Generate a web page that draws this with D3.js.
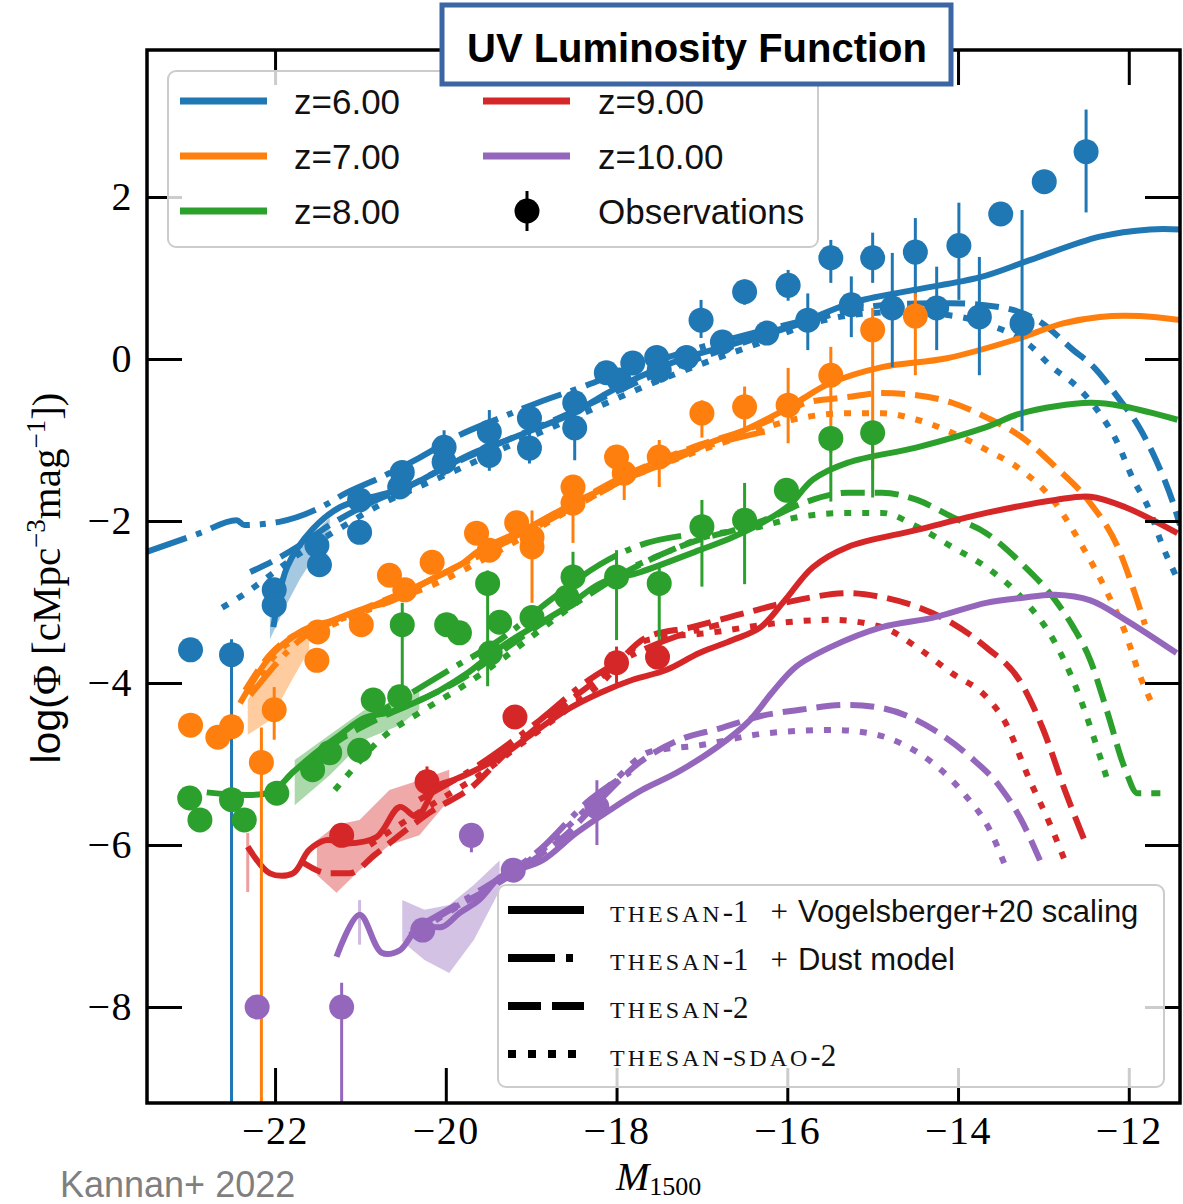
<!DOCTYPE html>
<html>
<head>
<meta charset="utf-8">
<script src="https://cdn.jsdelivr.net/npm/d3@7"></script>
<style>
  body { margin: 0; background: #fff; }
  svg { display: block; }
</style>
</head>
<body>
<div id="chart"></div>
<script>
// UV luminosity function, THESAN models vs observations (Kannan+ 2022)

var zLabels = ["z=6.00", "z=7.00", "z=8.00", "z=9.00", "z=10.00"];
var zColors = ["#1f77b4", "#ff7f0e", "#2ca02c", "#d62728", "#9467bd"];
var xTicks = [-22, -20, -18, -16, -14, -12];
var yTicks = [-8, -6, -4, -2, 0, 2];
var modelNames = [
  {sc: "THESAN-1", plus: true, sans: "Vogelsberger+20 scaling"},
  {sc: "THESAN-1", plus: true, sans: "Dust model"},
  {sc: "THESAN-2", plus: false, sans: ""},
  {sc: "THESAN-SDAO-2", plus: false, sans: ""}
];

// THESAN-1 + Vogelsberger+20 scaling  [M1500, log phi]
var solidZ6 = [[-22.02,-3.31],[-21.86,-2.57],[-21.56,-2.10],[-21.24,-1.83],[-20.85,-1.70],[-20.45,-1.58],[-20.07,-1.37],[-19.68,-1.16],[-19.28,-1.00],[-18.90,-0.84],[-18.51,-0.67],[-18.11,-0.42],[-17.73,-0.22],[-17.26,-0.01],[-16.55,0.21],[-15.77,0.48],[-15.23,0.70],[-14.53,0.85],[-13.74,1.01],[-13.16,1.22],[-12.34,1.51],[-11.75,1.60],[-11.40,1.60]];
var solidZ7 = [[-22.41,-4.25],[-22.06,-3.68],[-21.79,-3.43],[-21.40,-3.26],[-21.01,-3.10],[-20.62,-2.98],[-20.19,-2.73],[-19.83,-2.54],[-19.60,-2.36],[-19.01,-2.07],[-18.43,-1.74],[-17.84,-1.46],[-17.26,-1.21],[-16.92,-1.04],[-16.55,-0.90],[-16.11,-0.67],[-15.85,-0.51],[-15.50,-0.30],[-14.89,-0.10],[-14.13,0.01],[-13.36,0.23],[-12.77,0.44],[-12.34,0.52],[-11.87,0.53],[-11.40,0.48]];
var solidZ8 = [[-22.80,-5.35],[-22.06,-5.35],[-21.79,-5.10],[-21.51,-4.85],[-21.24,-4.64],[-20.95,-4.43],[-20.65,-4.36],[-20.38,-4.25],[-20.07,-4.09],[-19.75,-3.88],[-19.36,-3.56],[-18.98,-3.31],[-18.58,-3.06],[-18.19,-2.77],[-17.72,-2.63],[-17.03,-2.36],[-16.64,-2.20],[-16.24,-1.99],[-15.97,-1.80],[-15.70,-1.49],[-15.29,-1.28],[-14.48,-1.09],[-13.67,-0.84],[-13.26,-0.67],[-12.45,-0.54],[-12.04,-0.59],[-11.43,-0.75]];
var solidZ9 = [[-22.32,-6.02],[-22.06,-6.35],[-21.79,-6.35],[-21.60,-6.06],[-21.40,-5.94],[-21.16,-5.98],[-20.81,-5.90],[-20.54,-5.53],[-20.34,-5.65],[-20.11,-5.28],[-19.92,-5.20],[-19.72,-5.11],[-19.36,-4.91],[-18.98,-4.62],[-18.58,-4.33],[-18.19,-4.12],[-17.81,-3.96],[-17.42,-3.84],[-17.03,-3.63],[-16.64,-3.47],[-16.31,-3.31],[-16.03,-2.98],[-15.70,-2.57],[-15.29,-2.32],[-14.48,-2.11],[-13.67,-1.90],[-12.86,-1.74],[-12.45,-1.70],[-12.04,-1.83],[-11.43,-2.15]];
var solidZ10 = [[-21.28,-7.38],[-21.01,-6.86],[-20.75,-7.33],[-20.54,-7.30],[-20.31,-7.01],[-20.04,-7.01],[-19.84,-6.84],[-19.61,-6.68],[-19.37,-6.40],[-19.17,-6.31],[-18.87,-6.19],[-18.47,-5.85],[-18.08,-5.57],[-17.70,-5.32],[-17.30,-5.11],[-16.82,-4.79],[-16.44,-4.46],[-16.18,-4.12],[-15.90,-3.80],[-15.50,-3.56],[-14.89,-3.31],[-14.28,-3.19],[-13.67,-3.01],[-13.26,-2.95],[-12.86,-2.91],[-12.45,-2.98],[-12.04,-3.22],[-11.44,-3.63]];

// THESAN-1 + Dust model
var dustZ6 = [[-23.50,-2.38],[-22.88,-2.15],[-22.45,-1.99],[-22.36,-2.05],[-21.95,-2.01],[-21.48,-1.84],[-21.16,-1.65],[-20.78,-1.47],[-20.31,-1.22],[-19.84,-0.94],[-19.37,-0.73],[-18.90,-0.53],[-18.44,-0.36],[-17.97,-0.17],[-17.50,-0.01],[-17.03,0.14],[-16.44,0.31],[-15.86,0.46]];
var dustZ7 = [[-22.29,-4.15],[-21.71,-3.47],[-21.01,-3.12],[-20.30,-2.79],[-19.60,-2.42],[-18.90,-2.05],[-18.19,-1.65],[-17.49,-1.25],[-16.90,-1.06],[-16.20,-0.88]];
var dustZ8 = [[-21.71,-5.05],[-21.12,-4.58],[-20.54,-4.21],[-19.96,-3.84],[-19.37,-3.47],[-18.78,-2.98],[-18.20,-2.54],[-17.73,-2.30],[-17.15,-2.17]];
var dustZ9 = [[-20.31,-5.44],[-19.61,-5.01],[-18.90,-4.46],[-18.32,-3.96],[-17.81,-3.65],[-17.26,-3.41],[-16.80,-3.28]];
var dustZ10 = [[-20.30,-6.99],[-19.60,-6.56],[-18.90,-6.06],[-18.31,-5.44],[-17.84,-5.10]];

// THESAN-2
var t2Z6 = [[-22.29,-2.63],[-22.00,-2.48],[-21.71,-2.30],[-21.36,-2.05],[-20.89,-1.78],[-20.42,-1.56],[-19.95,-1.31],[-19.48,-1.09],[-19.01,-0.88],[-18.55,-0.67],[-18.08,-0.44],[-17.61,-0.22],[-17.03,0.01],[-16.44,0.23],[-15.77,0.46],[-15.27,0.60],[-14.68,0.68],[-14.10,0.69],[-13.51,0.64],[-13.04,0.46],[-12.65,0.11],[-12.41,-0.10],[-12.13,-0.47],[-11.88,-0.84],[-11.68,-1.25],[-11.48,-1.78],[-11.40,-2.05]];
var t2Z7 = [[-22.35,-4.09],[-22.06,-3.65],[-21.71,-3.37],[-21.24,-3.20],[-20.77,-3.00],[-20.30,-2.79],[-19.83,-2.54],[-19.36,-2.30],[-18.90,-2.01],[-18.43,-1.74],[-17.96,-1.47],[-17.49,-1.25],[-17.03,-1.06],[-16.55,-0.90],[-16.09,-0.70],[-15.78,-0.54],[-15.29,-0.47],[-14.89,-0.42],[-14.53,-0.44],[-14.07,-0.54],[-13.67,-0.72],[-13.26,-0.96],[-12.86,-1.33],[-12.45,-1.78],[-12.13,-2.32],[-11.93,-2.89],[-11.81,-3.28]];
var t2Z8 = [[-21.71,-5.07],[-21.24,-4.70],[-20.77,-4.43],[-20.30,-4.21],[-19.83,-3.96],[-19.36,-3.62],[-18.90,-3.28],[-18.43,-2.98],[-17.96,-2.67],[-17.49,-2.42],[-17.03,-2.23],[-16.55,-2.09],[-16.20,-1.96],[-15.82,-1.78],[-15.29,-1.65],[-14.89,-1.65],[-14.48,-1.74],[-14.07,-1.95],[-13.67,-2.15],[-13.26,-2.52],[-12.86,-2.98],[-12.65,-3.31],[-12.45,-3.72],[-12.26,-4.33],[-12.04,-5.07],[-11.90,-5.36],[-11.63,-5.36]];
var t2Z9 = [[-21.71,-6.19],[-21.36,-6.35],[-21.13,-6.35],[-20.83,-6.12],[-20.46,-5.81],[-20.19,-5.60],[-19.69,-5.28],[-19.29,-4.86],[-18.90,-4.52],[-18.49,-4.17],[-18.08,-3.84],[-17.64,-3.43],[-17.12,-3.31],[-16.51,-3.14],[-15.90,-2.98],[-15.29,-2.89],[-14.89,-2.94],[-14.48,-3.06],[-14.07,-3.26],[-13.67,-3.56],[-13.26,-4.00],[-13.00,-4.58],[-12.75,-5.32],[-12.52,-5.94]];
var t2Z10 = [[-20.42,-7.11],[-19.95,-6.80],[-19.48,-6.53],[-19.01,-6.21],[-18.60,-5.88],[-18.19,-5.44],[-17.73,-4.98],[-17.26,-4.70],[-16.79,-4.56],[-16.32,-4.41],[-15.85,-4.33],[-15.29,-4.27],[-14.89,-4.31],[-14.28,-4.58],[-13.86,-4.91],[-13.51,-5.28],[-13.27,-5.67],[-13.04,-6.19]];

// THESAN-SDAO-2
var sdaoZ6 = [[-22.62,-3.07],[-22.33,-2.88],[-22.06,-2.67],[-21.71,-2.40],[-21.24,-2.09],[-20.77,-1.80],[-20.30,-1.57],[-19.83,-1.35],[-19.36,-1.12],[-18.90,-0.91],[-18.43,-0.69],[-17.96,-0.47],[-17.49,-0.26],[-16.90,-0.02],[-16.32,0.20],[-15.77,0.42],[-15.27,0.54],[-14.68,0.58],[-14.10,0.54],[-13.63,0.42],[-13.16,0.17],[-12.90,-0.10],[-12.65,-0.30],[-12.37,-0.63],[-12.13,-1.04],[-11.96,-1.46],[-11.76,-1.86],[-11.60,-2.32],[-11.45,-2.67]];
var sdaoZ7 = [[-22.29,-4.09],[-21.94,-3.59],[-21.48,-3.35],[-20.77,-3.04],[-20.07,-2.75],[-19.36,-2.36],[-18.66,-1.93],[-17.96,-1.52],[-17.26,-1.22],[-16.55,-0.96],[-15.94,-0.75],[-15.29,-0.67],[-14.89,-0.67],[-14.48,-0.75],[-14.07,-0.91],[-13.67,-1.12],[-13.26,-1.37],[-12.86,-1.78],[-12.54,-2.32],[-12.25,-2.89],[-12.04,-3.38],[-11.88,-3.88],[-11.73,-4.25]];
var sdaoZ8 = [[-21.30,-5.32],[-21.12,-5.10],[-20.77,-4.70],[-20.30,-4.36],[-19.83,-4.06],[-19.36,-3.72],[-18.90,-3.35],[-18.43,-2.98],[-17.96,-2.65],[-17.49,-2.42],[-16.88,-2.17],[-16.41,-2.09],[-15.86,-1.95],[-15.29,-1.90],[-14.89,-1.90],[-14.48,-2.07],[-14.07,-2.32],[-13.67,-2.57],[-13.26,-2.94],[-12.86,-3.51],[-12.62,-4.05],[-12.42,-4.64],[-12.25,-5.20]];
var sdaoZ9 = [[-20.89,-6.00],[-20.54,-5.75],[-20.07,-5.44],[-19.61,-5.14],[-19.14,-4.77],[-18.67,-4.40],[-18.20,-4.02],[-17.64,-3.47],[-16.91,-3.38],[-16.11,-3.26],[-15.50,-3.22],[-14.89,-3.31],[-14.48,-3.56],[-14.07,-3.88],[-13.67,-4.17],[-13.46,-4.46],[-13.16,-5.20],[-12.92,-5.75],[-12.75,-6.19]];
var sdaoZ10 = [[-20.30,-7.05],[-19.83,-6.74],[-19.36,-6.43],[-18.90,-6.09],[-18.43,-5.63],[-18.02,-5.20],[-17.61,-4.85],[-17.03,-4.77],[-16.24,-4.62],[-15.46,-4.58],[-15.03,-4.62],[-14.62,-4.77],[-14.27,-5.01],[-13.92,-5.38],[-13.63,-5.81],[-13.45,-6.25]];

// shaded scatter of the scaled model at the bright end  [M1500, low, high]
var bandZ6 = [[-22.06,-3.46,-2.98],[-21.89,-3.08,-2.59],[-21.71,-2.72,-2.32],[-21.36,-2.15,-1.96]];
var bandZ7 = [[-22.32,-4.64,-4.21],[-22.06,-4.46,-3.72],[-21.80,-3.96,-3.47],[-21.60,-3.59,-3.28]];
var bandZ8 = [[-21.77,-5.51,-4.95],[-21.36,-5.14,-4.64],[-20.95,-4.70,-4.33],[-20.54,-4.52,-4.21],[-20.31,-4.33,-4.09]];
var bandZ9 = [[-21.51,-6.37,-5.94],[-21.28,-6.59,-5.75],[-21.01,-6.31,-5.69],[-20.66,-6.00,-5.32],[-20.31,-5.88,-5.20],[-19.96,-5.44,-5.07]];
var bandZ10 = [[-20.51,-7.19,-6.68],[-20.25,-7.42,-6.80],[-19.96,-7.58,-6.74],[-19.67,-7.17,-6.49],[-19.37,-6.56,-6.19]];

// observations  [M1500, log phi, err down, err up]
var obsZ6 = [[-22.99,-3.59,0,0],[-22.51,-3.65,6.0,0.19],[-22.01,-2.85,0,0],[-22.01,-3.04,0.22,0],[-21.51,-2.30,0,0],[-21.48,-2.54,0,0],[-21.01,-2.14,0,0],[-21.01,-1.74,0,0],[-20.54,-1.58,0,0],[-20.51,-1.40,0,0],[-20.02,-1.27,0,0],[-20.02,-1.09,0.35,0.21],[-19.49,-1.19,0.19,0.56],[-19.49,-0.90,0,0],[-19.02,-1.10,0.19,0.51],[-19.02,-0.73,0,0],[-18.49,-0.85,0.40,0.47],[-18.49,-0.54,0,0],[-18.12,-0.17,0,0],[-17.97,-0.26,0,0],[-17.81,-0.05,0,0],[-17.53,0.02,0,0],[-17.50,-0.14,0,0],[-17.18,0.02,0,0],[-17.01,0.48,0.22,0.25],[-16.76,0.21,0,0],[-16.50,0.83,0.16,0.15],[-16.24,0.32,0,0],[-15.99,0.91,0.19,0.19],[-15.76,0.48,0.37,0.33],[-15.49,1.25,0.31,0.22],[-15.25,0.67,0.40,0.35],[-15.00,1.25,0.31,0.31],[-14.77,0.63,0.73,0.68],[-14.50,1.32,0.56,0.42],[-14.25,0.63,0.52,0.51],[-13.99,1.40,0.67,0.53],[-13.75,0.52,0.72,0.74],[-13.50,1.79,0,0],[-13.25,0.44,1.33,1.40],[-12.99,2.19,0,0],[-12.50,2.56,0.75,0.52]];
var obsZ7 = [[-22.99,-4.52,0,0],[-22.67,-4.67,0,0],[-22.51,-4.54,0,0],[-22.16,-4.98,6.0,0.43],[-22.01,-4.33,0.37,0.28],[-21.51,-3.72,0,0],[-21.50,-3.37,0,0],[-20.99,-3.28,0,0],[-20.66,-2.67,0,0],[-20.48,-2.85,0,0],[-20.16,-2.51,0,0],[-19.64,-2.15,0,0],[-19.49,-2.36,0,0],[-19.17,-2.02,0,0],[-18.99,-2.20,0.81,0.33],[-18.99,-2.32,0,0],[-18.51,-1.58,0,0],[-18.51,-1.78,0.49,0.20],[-18.00,-1.21,0,0],[-17.91,-1.41,0.33,0],[-17.50,-1.21,0.37,0.21],[-17.00,-0.67,0.30,0.16],[-16.50,-0.59,0.28,0.25],[-15.99,-0.57,0.47,0.46],[-15.49,-0.20,0.96,0.35],[-15.00,0.36,1.73,0.27],[-14.50,0.53,0.73,0.28]];
var obsZ8 = [[-23.00,-5.42,0,0],[-22.88,-5.69,0,0],[-22.51,-5.44,0,0],[-22.36,-5.69,0,0],[-21.98,-5.36,0,0],[-21.56,-5.07,0,0],[-21.36,-4.86,0,0],[-21.01,-4.83,0,0],[-20.85,-4.21,0,0],[-20.54,-4.17,0,0],[-20.51,-3.28,0.85,0.27],[-19.99,-3.28,0,0],[-19.84,-3.38,0,0],[-19.51,-2.77,1.27,0.16],[-19.48,-3.63,0,0],[-19.37,-3.25,0,0],[-18.99,-3.19,0,0],[-18.58,-2.94,0,0],[-18.51,-2.69,0,0.31],[-18.00,-2.69,0.78,0.33],[-17.50,-2.77,0.70,0.25],[-17.00,-2.07,0.74,0.33],[-16.50,-1.99,0.79,0.46],[-16.01,-1.62,0,0],[-15.49,-0.98,0.78,0],[-15.00,-0.91,0.80,0]];
var obsZ9 = [[-21.22,-5.88,0,0],[-20.22,-5.22,0,0.19],[-19.19,-4.42,0,0],[-18.00,-3.75,0.25,0.20],[-17.52,-3.68,0,0]];
var obsZ10 = [[-22.21,-8.00,0,0],[-21.22,-8.00,3.0,0.30],[-20.27,-7.05,0,0],[-19.70,-5.88,0.21,0],[-19.21,-6.31,0,0],[-18.23,-5.53,0.47,0.33]];

// faint vertical spreads of single bins  [M1500, low, high]
var spreadZ9 = [[-22.32,-6.58,-5.85]];
var spreadZ10 = [[-21.01,-7.23,-6.68]];

var series = [
  {solid: solidZ6, dust: dustZ6, t2: t2Z6, sdao: sdaoZ6, band: bandZ6, obs: obsZ6, spread: []},
  {solid: solidZ7, dust: dustZ7, t2: t2Z7, sdao: sdaoZ7, band: bandZ7, obs: obsZ7, spread: []},
  {solid: solidZ8, dust: dustZ8, t2: t2Z8, sdao: sdaoZ8, band: bandZ8, obs: obsZ8, spread: []},
  {solid: solidZ9, dust: dustZ9, t2: t2Z9, sdao: sdaoZ9, band: bandZ9, obs: obsZ9, spread: spreadZ9},
  {solid: solidZ10, dust: dustZ10, t2: t2Z10, sdao: sdaoZ10, band: bandZ10, obs: obsZ10, spread: spreadZ10}
];

var W = 1183, H = 1204;
var plot = {left: 147, right: 1180, top: 50, bottom: 1103};
var serif = "'Liberation Serif', 'DejaVu Serif', serif";
var sans = "'Liberation Sans', Arial, sans-serif";

var dashes = {solid: null, dust: "42,10,6,10", t2: "24,10", sdao: "7,11"};

var svg = d3.select("#chart").append("svg")
    .attr("width", W).attr("height", H)
    .attr("viewBox", "0 0 " + W + " " + H);

var x = d3.scaleLinear().domain([-23.5, -11.4]).range([plot.left, plot.right]);
var y = d3.scaleLinear().domain([-9.185, 3.815]).range([plot.bottom, plot.top]);

svg.append("clipPath").attr("id", "plotclip")
  .append("rect")
    .attr("x", plot.left).attr("y", plot.top)
    .attr("width", plot.right - plot.left).attr("height", plot.bottom - plot.top);

var g = svg.append("g").attr("clip-path", "url(#plotclip)");

var smooth = d3.line()
    .x(function(d){ return x(d[0]); })
    .y(function(d){ return y(d[1]); })
    .curve(d3.curveMonotoneX);
// the scaled model is jagged at the bright end; catmull-rom keeps the corners sharper
var jagged = d3.line()
    .x(function(d){ return x(d[0]); })
    .y(function(d){ return y(d[1]); })
    .curve(d3.curveCatmullRom.alpha(0.5));

var area = d3.area()
    .x(function(d){ return x(d[0]); })
    .y0(function(d){ return y(d[1]); })
    .y1(function(d){ return y(d[2]); })
    .curve(d3.curveLinear);

series.forEach(function(s, i){
  var c = zColors[i];
  g.append("path").attr("d", area(s.band))
    .attr("fill", c).attr("fill-opacity", 0.4).attr("stroke", "none");

  ["sdao", "t2", "dust", "solid"].forEach(function(k){
    g.append("path")
      .attr("d", (k === "solid" ? jagged : smooth)(s[k]))
      .attr("fill", "none")
      .attr("stroke", c)
      .attr("stroke-width", 6)
      .attr("stroke-dasharray", dashes[k])
      .attr("stroke-linejoin", "round");
  });
});

// observations on top
series.forEach(function(s, i){
  var c = zColors[i];
  var og = g.append("g");

  og.selectAll(".spread").data(s.spread).enter().append("line")
    .attr("x1", function(d){ return x(d[0]); })
    .attr("x2", function(d){ return x(d[0]); })
    .attr("y1", function(d){ return y(d[1]); })
    .attr("y2", function(d){ return y(d[2]); })
    .attr("stroke", c).attr("stroke-opacity", 0.45).attr("stroke-width", 3);

  og.selectAll(".err").data(s.obs.filter(function(d){ return d[2] > 0 || d[3] > 0; }))
    .enter().append("line")
    .attr("x1", function(d){ return x(d[0]); })
    .attr("x2", function(d){ return x(d[0]); })
    .attr("y1", function(d){ return y(d[1] - d[2]); })
    .attr("y2", function(d){ return y(d[1] + d[3]); })
    .attr("stroke", c).attr("stroke-width", 3);

  og.selectAll(".pt").data(s.obs).enter().append("circle")
    .attr("cx", function(d){ return x(d[0]); })
    .attr("cy", function(d){ return y(d[1]); })
    .attr("r", 12.5)
    .attr("fill", c);
});

// axes, ticks pointing inwards on all four sides
var fmt = function(d){ return d < 0 ? "\u2212" + Math.abs(d) : String(d); };

var xAxis = svg.append("g")
    .attr("transform", "translate(0," + plot.bottom + ")")
    .call(d3.axisBottom(x).tickValues(xTicks).tickSize(-35).tickPadding(13).tickFormat(fmt));
var yAxis = svg.append("g")
    .attr("transform", "translate(" + plot.left + ",0)")
    .call(d3.axisLeft(y).tickValues(yTicks).tickSize(-35).tickPadding(14).tickFormat(fmt));
var xTop = svg.append("g")
    .attr("transform", "translate(0," + plot.top + ")")
    .call(d3.axisTop(x).tickValues(xTicks).tickSize(-35).tickFormat(""));
var yRight = svg.append("g")
    .attr("transform", "translate(" + plot.right + ",0)")
    .call(d3.axisRight(y).tickValues(yTicks).tickSize(-35).tickFormat(""));

[xAxis, yAxis, xTop, yRight].forEach(function(a){
  a.select(".domain").remove();
  a.selectAll(".tick line").attr("stroke", "#000").attr("stroke-width", 3);
  a.selectAll(".tick text")
    .attr("fill", "#000")
    .style("font-family", serif)
    .style("font-size", "40px")
    .style("letter-spacing", "1.5px");
});

svg.append("rect")
  .attr("x", plot.left).attr("y", plot.top)
  .attr("width", plot.right - plot.left).attr("height", plot.bottom - plot.top)
  .attr("fill", "none").attr("stroke", "#000").attr("stroke-width", 3.5);

// axis labels
var xl = svg.append("text").attr("x", 616).attr("y", 1190)
    .style("font-family", serif).attr("fill", "#000");
xl.append("tspan").text("M").style("font-style", "italic").style("font-size", "40px");
xl.append("tspan").text("1500").attr("dy", 5).style("font-size", "26px");

var yl = svg.append("text")
    .attr("transform", "translate(60,578) rotate(-90)")
    .attr("text-anchor", "middle")
    .attr("fill", "#000")
    .style("font-size", "41px");
yl.append("tspan").text("log(").style("font-family", sans);
yl.append("tspan").text("\u03a6 [cMpc").style("font-family", serif);
yl.append("tspan").text("\u22123").attr("dy", -15).style("font-family", serif).style("font-size", "27px");
yl.append("tspan").text("mag").attr("dy", 15).style("font-family", serif);
yl.append("tspan").text("\u22121").attr("dy", -15).style("font-family", serif).style("font-size", "27px");
yl.append("tspan").text("])").attr("dy", 15).style("font-family", serif);

// redshift legend
var leg1 = svg.append("g");
leg1.append("rect")
  .attr("x", 168).attr("y", 71).attr("width", 650).attr("height", 176).attr("rx", 8)
  .attr("fill", "#fff").attr("fill-opacity", 0.8)
  .attr("stroke", "#cccccc").attr("stroke-width", 2);

var leg1Items = zLabels.map(function(t, i){ return {label: t, color: zColors[i], obs: false}; });
leg1Items.push({label: "Observations", color: "#000", obs: true});

leg1Items.forEach(function(d, i){
  var col = Math.floor(i / 3), row = i % 3;
  var cy = 101 + row * 55;
  var lx = col === 0 ? 180 : 483;
  var tx = col === 0 ? 294 : 598;
  if (d.obs) {
    leg1.append("line").attr("x1", 527).attr("x2", 527).attr("y1", cy - 20).attr("y2", cy + 20)
      .attr("stroke", "#000").attr("stroke-width", 3);
    leg1.append("circle").attr("cx", 527).attr("cy", cy).attr("r", 12.5).attr("fill", "#000");
  } else {
    leg1.append("line").attr("x1", lx).attr("x2", lx + 87).attr("y1", cy).attr("y2", cy)
      .attr("stroke", d.color).attr("stroke-width", 7);
  }
  leg1.append("text").attr("x", tx).attr("y", cy + 13)
    .text(d.label)
    .attr("fill", "#111")
    .style("font-family", sans).style("font-size", "35px");
});

// model legend
var leg2 = svg.append("g");
leg2.append("rect")
  .attr("x", 498).attr("y", 885).attr("width", 666).attr("height", 202).attr("rx", 8)
  .attr("fill", "#fff").attr("fill-opacity", 0.8)
  .attr("stroke", "#cccccc").attr("stroke-width", 2);

var legDash = [null, "47,11,7,11", "33,11", "8,12"];
modelNames.forEach(function(d, i){
  var cy = 910 + i * 48;
  leg2.append("line").attr("x1", 508).attr("x2", 584).attr("y1", cy).attr("y2", cy)
    .attr("stroke", "#000").attr("stroke-width", 8)
    .attr("stroke-dasharray", legDash[i]);
  var t = leg2.append("text").attr("x", 610).attr("y", cy + 12).attr("fill", "#111");
  // small caps: capital runs set smaller, the rest at full size
  d.sc.split(/([A-Z]+)/).forEach(function(part){
    if (!part) return;
    var caps = /^[A-Z]+$/.test(part);
    t.append("tspan").text(part)
      .style("font-family", serif)
      .style("font-size", caps ? "24px" : "31px")
      .style("letter-spacing", caps ? "3px" : "0px");
  });
  if (d.plus) {
    t.append("tspan").text("+").attr("dx", 22).style("font-family", serif).style("font-size", "31px");
  }
  if (d.sans) {
    t.append("tspan").text(d.sans).attr("dx", d.plus ? 10 : 0)
      .style("font-family", sans).style("font-size", "31px");
  }
});

// title box
svg.append("rect")
  .attr("x", 442).attr("y", 5).attr("width", 509).attr("height", 79)
  .attr("fill", "#fff").attr("stroke", "#3b65a3").attr("stroke-width", 5);
svg.append("text")
  .attr("x", 697).attr("y", 62).attr("text-anchor", "middle")
  .text("UV Luminosity Function")
  .attr("fill", "#000")
  .style("font-family", sans).style("font-weight", "bold").style("font-size", "40px");

svg.append("text")
  .attr("x", 60).attr("y", 1197)
  .text("Kannan+ 2022")
  .attr("fill", "#7f7f7f")
  .style("font-family", sans).style("font-size", "36px");
</script>
</body>
</html>
